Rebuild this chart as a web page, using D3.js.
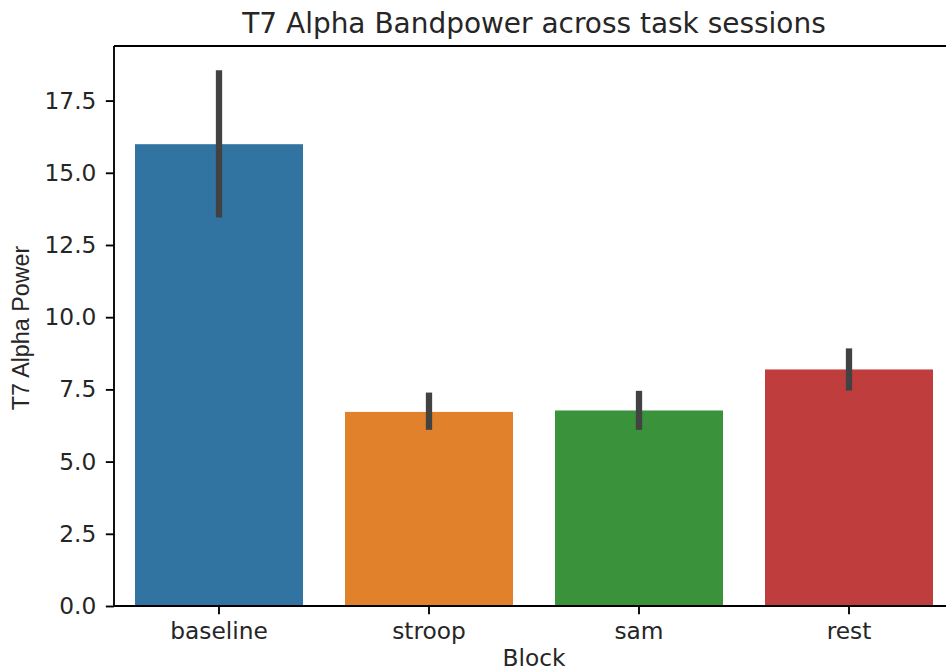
<!DOCTYPE html>
<html>
<head>
<meta charset="utf-8">
<script src="https://cdn.jsdelivr.net/npm/d3@7"></script>
<style>
  html, body { margin: 0; padding: 0; background: #fff; }
  svg { display: block; font-family: "DejaVu Sans", sans-serif; }
</style>
</head>
<body>
<svg id="chart" width="946" height="672"></svg>
<script>
// Mean T7 alpha bandpower per task block, with 95% CI bounds
const blocks = ["baseline", "stroop", "sam", "rest"];
const meanPower = [15.99, 6.72, 6.77, 8.19];
const ciLow = [13.45, 6.10, 6.10, 7.46];
const ciHigh = [18.55, 7.39, 7.45, 8.92];
const barColors = ["#3274a1", "#e1812c", "#3a923a", "#c03d3e"];
const yTicks = [0, 2.5, 5, 7.5, 10, 12.5, 15, 17.5];

(function draw() {
  const svg = d3.select("#chart");
  const plotLeft = 114, plotRight = 954, plotTop = 46, plotBottom = 606;
  const pt = 2.33;               // one typographic point in px
  const tickFont = 10 * pt;
  const titleFont = 12 * pt;
  const ink = "#262626";

  const x = d3.scaleBand().domain(blocks).range([plotLeft, plotRight]).paddingInner(0).paddingOuter(0);
  const y = d3.scaleLinear().domain([0, 19.39]).range([plotBottom, plotTop]);

  const barW = x.bandwidth() * 0.8;

  // bars
  svg.append("g").selectAll("rect")
    .data(blocks)
    .join("rect")
    .attr("x", (d) => x(d) + (x.bandwidth() - barW) / 2)
    .attr("y", (d, i) => y(meanPower[i]))
    .attr("width", barW)
    .attr("height", (d, i) => y(0) - y(meanPower[i]))
    .attr("fill", (d, i) => barColors[i]);

  // confidence interval lines
  svg.append("g").selectAll("line")
    .data(blocks)
    .join("line")
    .attr("x1", (d) => x(d) + x.bandwidth() / 2)
    .attr("x2", (d) => x(d) + x.bandwidth() / 2)
    .attr("y1", (d, i) => y(ciLow[i]))
    .attr("y2", (d, i) => y(ciHigh[i]))
    .attr("stroke", "#424242")
    .attr("stroke-width", 2.7 * pt);

  // axes
  const yAxis = d3.axisLeft(y).tickValues(yTicks).tickFormat(d3.format(".1f"))
    .tickSize(3.5 * pt).tickPadding(9.5);
  const gy = svg.append("g").attr("transform", `translate(${plotLeft},0)`).call(yAxis);
  gy.select(".domain").remove();
  gy.selectAll(".tick line").attr("stroke", "#000").attr("stroke-width", 0.8 * pt);
  gy.selectAll(".tick text")
    .style("font-size", tickFont + "px").style("font-family", "DejaVu Sans").attr("fill", ink);

  const xAxis = d3.axisBottom(x).tickSize(3.5 * pt).tickPadding(3.5 * pt);
  const gx = svg.append("g").attr("transform", `translate(0,${plotBottom})`).call(xAxis);
  gx.select(".domain").remove();
  gx.selectAll(".tick line").attr("stroke", "#000").attr("stroke-width", 0.8 * pt);
  gx.selectAll(".tick text")
    .style("font-size", tickFont + "px").style("font-family", "DejaVu Sans").attr("fill", ink);

  // spines
  const spine = svg.append("g").attr("stroke", "#000").attr("stroke-width", 0.8 * pt).attr("fill", "none");
  spine.append("line").attr("x1", plotLeft).attr("x2", plotLeft).attr("y1", plotTop).attr("y2", plotBottom);
  spine.append("line").attr("x1", plotLeft).attr("x2", plotRight).attr("y1", plotBottom).attr("y2", plotBottom);
  spine.append("line").attr("x1", plotLeft).attr("x2", plotRight).attr("y1", plotTop).attr("y2", plotTop);
  spine.append("line").attr("x1", plotRight).attr("x2", plotRight).attr("y1", plotTop).attr("y2", plotBottom);

  // title and axis labels
  svg.append("text")
    .attr("x", (plotLeft + plotRight) / 2).attr("y", 33)
    .attr("text-anchor", "middle").style("font-size", titleFont + "px").attr("fill", ink)
    .text("T7 Alpha Bandpower across task sessions");

  svg.append("text")
    .attr("x", (plotLeft + plotRight) / 2).attr("y", 666)
    .attr("text-anchor", "middle").style("font-size", tickFont + "px").attr("fill", ink)
    .text("Block");

  svg.append("text")
    .attr("transform", `translate(29,${(plotTop + plotBottom) / 2 + 2}) rotate(-90)`)
    .attr("text-anchor", "middle")
    .style("font-size", tickFont + "px").style("font-family", "Liberation Sans").attr("fill", ink)
    .text("T7 Alpha Power");
})();
</script>
</body>
</html>
